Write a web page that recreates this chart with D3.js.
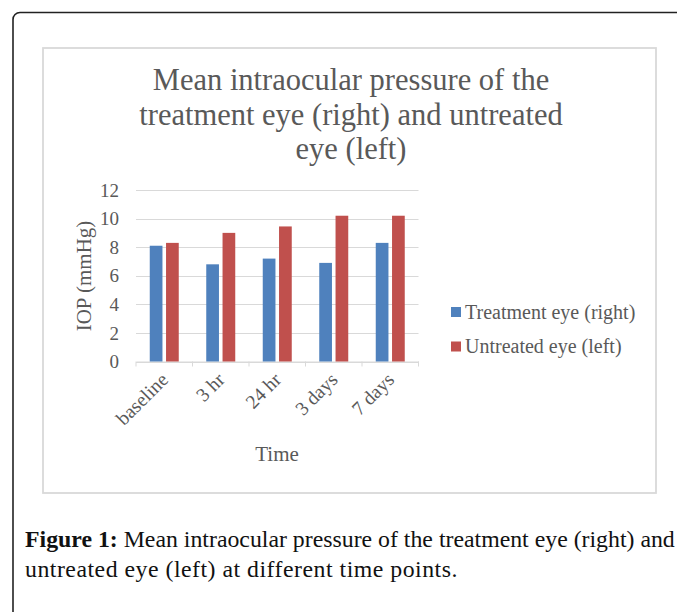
<!DOCTYPE html>
<html><head><meta charset="utf-8">
<script src="https://cdnjs.cloudflare.com/ajax/libs/d3/7.8.5/d3.min.js"></script>
<style>html,body{margin:0;padding:0;background:#fff;overflow:hidden}</style>
</head><body>
<script>
const categories = ["baseline", "3 hr", "24 hr", "3 days", "7 days"];
const seriesNames = ["Treatment eye (right)", "Untreated eye (left)"];
const treatment = [8.1, 6.8, 7.2, 6.9, 8.3];
const untreated = [8.3, 9.0, 9.45, 10.2, 10.2];
const yTicks = [0, 2, 4, 6, 8, 10, 12];
const titleLines = ["Mean intraocular pressure of the", "treatment eye (right) and untreated", "eye (left)"];
const colors = ["#4F81BD", "#C0504D"];

const W = 677, H = 612;
const svg = d3.select("body").append("svg").attr("width", W).attr("height", H)
  .style("font-family", "'Liberation Serif', serif");

// outer frame
svg.append("rect").attr("x", 13).attr("y", 12.5).attr("width", 700).attr("height", 640)
  .attr("rx", 7).attr("fill", "none").attr("stroke", "#222").attr("stroke-width", 1.6);
// chart box
svg.append("rect").attr("x", 43).attr("y", 48).attr("width", 613).attr("height", 445)
  .attr("fill", "#fff").attr("stroke", "#d9d9d9").attr("stroke-width", 1.8);

const x0 = d3.scaleBand().domain(categories).range([136, 418.5]).paddingInner(0).paddingOuter(0);
const y = d3.scaleLinear().domain([0, 12]).range([361.5, 190]);
const x1 = d3.scaleBand().domain([0, 1]).range([0, 29]).paddingInner(0.22);
const groupOffset = (x0.bandwidth() - 29) / 2;

// title
svg.append("g").selectAll("text").data(titleLines).join("text")
  .attr("x", 351).attr("y", (d, i) => 90 + i * 34.5)
  .attr("text-anchor", "middle").attr("fill", "#595959")
  .style("font-size", "30.5px").text(d => d);

// grid
svg.append("g").selectAll("line").data(yTicks).join("line")
  .attr("x1", 136).attr("x2", 418.5).attr("y1", d => Math.round(y(d)) + 0.5).attr("y2", d => Math.round(y(d)) + 0.5)
  .attr("stroke", "#d9d9d9").attr("stroke-width", 1);

// y axis labels
const yAxis = d3.axisLeft(y).tickValues(yTicks).tickSize(0).tickPadding(17);
const gy = svg.append("g").attr("transform", "translate(136,0)").call(yAxis);
gy.select(".domain").remove();
gy.selectAll("text").attr("fill", "#595959").style("font-size", "19px")
  .style("font-family", "'Liberation Serif', serif");

// x axis
const xAxis = d3.axisBottom(x0).tickSize(0).tickFormat("");
const gx = svg.append("g").attr("transform", "translate(0,361.5)").call(xAxis);
gx.select(".domain").attr("stroke", "#d9d9d9");
const bounds = categories.map(c => x0(c)).concat([x0.range()[1]]);
gx.selectAll("line.bt").data(bounds).join("line").attr("class", "bt")
  .attr("x1", d => d).attr("x2", d => d).attr("y1", 0).attr("y2", 5)
  .attr("stroke", "#d9d9d9");

// bars
const groups = svg.append("g").selectAll("g").data(categories).join("g")
  .attr("transform", d => `translate(${x0(d) + groupOffset},0)`);
groups.selectAll("rect").data((d, i) => [treatment[i], untreated[i]]).join("rect")
  .attr("x", (d, j) => x1(j)).attr("width", x1.bandwidth())
  .attr("y", d => y(d)).attr("height", d => y(0) - y(d))
  .attr("fill", (d, j) => colors[j]);

// x labels rotated
svg.append("g").selectAll("text").data(categories).join("text")
  .attr("transform", d => `translate(${x0(d) + x0.bandwidth() / 2 + 5},${381}) rotate(-45)`)
  .attr("text-anchor", "end").attr("fill", "#595959").style("font-size", "19.5px")
  .text(d => d);

// axis titles
svg.append("text").attr("x", 277).attr("y", 461).attr("text-anchor", "middle")
  .attr("fill", "#595959").style("font-size", "21px").text("Time");
svg.append("text").attr("transform", "translate(91,276) rotate(-90)").attr("text-anchor", "middle")
  .attr("fill", "#595959").style("font-size", "21px").text("IOP (mmHg)");

// legend
const lg = svg.append("g").selectAll("g").data(seriesNames).join("g")
  .attr("transform", (d, i) => `translate(451,${312 + i * 34.5})`);
lg.append("rect").attr("x", 0).attr("y", -5).attr("width", 10).attr("height", 10)
  .attr("fill", (d, i) => colors[i]);
lg.append("text").attr("x", 14).attr("y", 6.5).attr("fill", "#595959")
  .style("font-size", "20px").text(d => d);

// caption
const cap1 = svg.append("text").attr("x", 25).attr("y", 547).attr("fill", "#111").style("font-size", "23.8px");
cap1.append("tspan").style("font-weight", "bold").text("Figure 1:");
cap1.append("tspan").text(" Mean intraocular pressure of the treatment eye (right) and");
svg.append("text").attr("x", 25).attr("y", 577).attr("fill", "#111").style("font-size", "23.8px")
  .style("letter-spacing", "0.5px")
  .text("untreated eye (left) at different time points.");
</script>
</body></html>
